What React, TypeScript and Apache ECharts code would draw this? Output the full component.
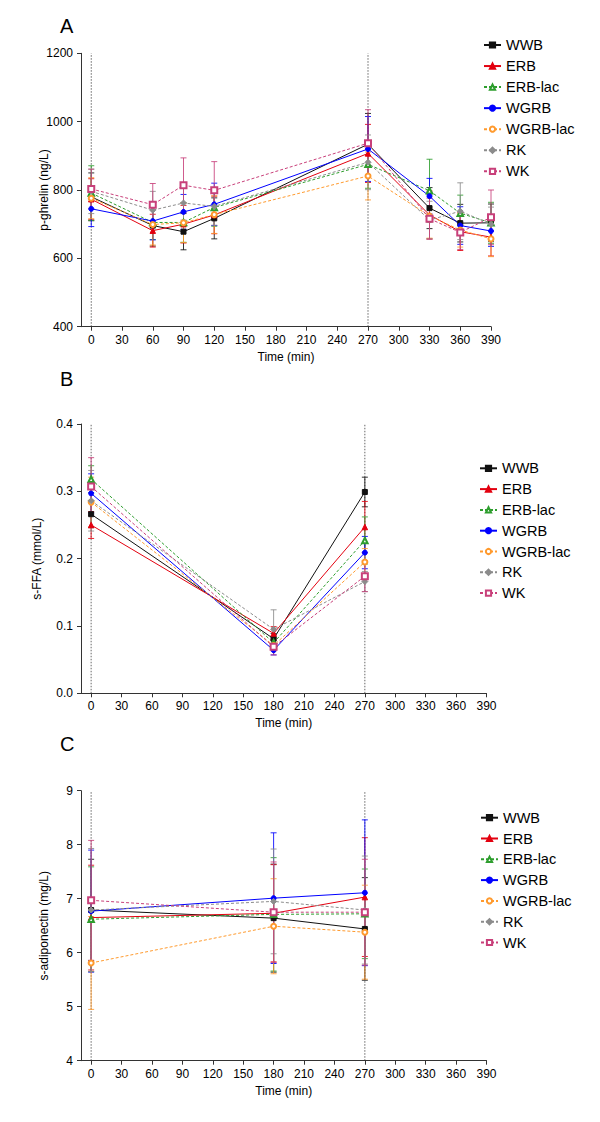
import React, { useEffect, useRef } from "react";
import * as echarts from "echarts";

// ---------- DATA ----------
const groups = ["WWB", "ERB", "ERB-lac", "WGRB", "WGRB-lac", "RK", "WK"];
const xTicks = [0, 30, 60, 90, 120, 150, 180, 210, 240, 270, 300, 330, 360, 390];
const refTimes = [0, 270];

// Panel A: p-ghrelin (ng/L)
const timesA = [0, 60, 90, 120, 270, 330, 360, 390];
const ghrelinWWB = [780, 696, 678, 717, 934, 747, 703, 704];
const ghrelinERB = [773, 681, 700, 727, 907, 727, 678, 662];
const ghrelinERBlac = [791, 705, 705, 749, 875, 798, 732, 704];
const ghrelinWGRB = [745, 709, 736, 758, 920, 782, 696, 680];
const ghrelinWGRBlac = [776, 699, 704, 728, 841, 724, 683, 657];
const ghrelinRK = [796, 741, 762, 752, 881, 712, 738, 700];
const ghrelinWK = [803, 757, 814, 799, 937, 716, 676, 720];
const ghrelinErrWWB = [70, 60, 53, 60, 90, 60, 55, 55];
const ghrelinErrERB = [60, 48, 55, 55, 85, 70, 55, 55];
const ghrelinErrERBlac = [80, 50, 58, 55, 70, 92, 53, 60];
const ghrelinErrWGRB = [52, 55, 51, 62, 95, 52, 55, 45];
const ghrelinErrWGRBlac = [60, 60, 58, 55, 70, 65, 50, 52];
const ghrelinErrRK = [65, 55, 50, 55, 80, 55, 83, 50];
const ghrelinErrWK = [58, 62, 80, 84, 98, 60, 50, 80];

// Panel B: s-FFA (mmol/L)
const timesB = [0, 180, 270];
const ffaWWB = [0.266, 0.081, 0.299];
const ffaERB = [0.25, 0.089, 0.247];
const ffaERBlac = [0.318, 0.075, 0.227];
const ffaWGRB = [0.297, 0.064, 0.209];
const ffaWGRBlac = [0.284, 0.071, 0.195];
const ffaRK = [0.286, 0.095, 0.166];
const ffaWK = [0.307, 0.069, 0.174];
const ffaErrWWB = [0.02, 0.008, 0.022];
const ffaErrERB = [0.02, 0.01, 0.038];
const ffaErrERBlac = [0.02, 0.008, 0.035];
const ffaErrWGRB = [0.029, 0.007, 0.024];
const ffaErrWGRBlac = [0.037, 0.008, 0.02];
const ffaErrRK = [0.045, 0.029, 0.015];
const ffaErrWK = [0.043, 0.012, 0.023];

// Panel C: s-adiponectin (mg/L)
const timesC = [0, 180, 270];
const adipoWWB = [6.79, 6.64, 6.44];
const adipoERB = [6.65, 6.73, 7.03];
const adipoERBlac = [6.62, 6.71, 6.72];
const adipoWGRB = [6.77, 7.01, 7.11];
const adipoWGRBlac = [5.81, 6.49, 6.38];
const adipoRK = [6.79, 6.95, 6.79];
const adipoWK = [6.97, 6.75, 6.75];
const adipoErrWWB = [0.94, 1.0, 0.95];
const adipoErrERB = [0.97, 0.9, 1.1];
const adipoErrERBlac = [0.97, 1.05, 0.83];
const adipoErrWGRB = [1.13, 1.21, 1.35];
const adipoErrWGRBlac = [0.86, 0.88, 0.87];
const adipoErrRK = [1.14, 0.97, 1.0];
const adipoErrWK = [1.11, 0.93, 0.98];

const panels = [
  {
    letter: "A",
    yName: "p-ghrelin (ng/L)",
    times: timesA,
    means: [ghrelinWWB, ghrelinERB, ghrelinERBlac, ghrelinWGRB, ghrelinWGRBlac, ghrelinRK, ghrelinWK],
    errs: [ghrelinErrWWB, ghrelinErrERB, ghrelinErrERBlac, ghrelinErrWGRB, ghrelinErrWGRBlac, ghrelinErrRK, ghrelinErrWK],
  },
  {
    letter: "B",
    yName: "s-FFA (mmol/L)",
    times: timesB,
    means: [ffaWWB, ffaERB, ffaERBlac, ffaWGRB, ffaWGRBlac, ffaRK, ffaWK],
    errs: [ffaErrWWB, ffaErrERB, ffaErrERBlac, ffaErrWGRB, ffaErrWGRBlac, ffaErrRK, ffaErrWK],
  },
  {
    letter: "C",
    yName: "s-adiponectin (mg/L)",
    times: timesC,
    means: [adipoWWB, adipoERB, adipoERBlac, adipoWGRB, adipoWGRBlac, adipoRK, adipoWK],
    errs: [adipoErrWWB, adipoErrERB, adipoErrERBlac, adipoErrWGRB, adipoErrWGRBlac, adipoErrRK, adipoErrWK],
  },
];

// ---------- STYLE ----------
const styles = [
  { color: "#111111", symbol: "rect", dash: "solid", size: 5 },
  { color: "#e3000f", symbol: "triangle", dash: "solid", size: 5.5 },
  { color: "#2e9e2e", symbol: "emptyTriangle", dash: [3, 2], size: 5.5 },
  { color: "#0000ff", symbol: "circle", dash: "solid", size: 5 },
  { color: "#ff9a2e", symbol: "emptyCircle", dash: [3, 2], size: 5 },
  { color: "#8c8c8c", symbol: "diamond", dash: [3, 2], size: 6 },
  { color: "#c8407a", symbol: "emptyRect", dash: [3, 2], size: 6 },
];

const layout = [
  { left: 81, top: 53.3, width: 410, height: 273.4, yMin: 400, yMax: 1200, yInt: 200, nameGap: 31, legendLeft: 483, legendTop: 37.5, legendGap: 6.05, letterY: 27, dec: 0 },
  { left: 81, top: 424, width: 405.5, height: 269.3, yMin: 0, yMax: 0.4, yInt: 0.1, nameGap: 38, legendLeft: 479, legendTop: 460.8, legendGap: 5.8, letterY: 380, dec: 1 },
  { left: 81, top: 790.7, width: 405.5, height: 270, yMin: 4, yMax: 9, yInt: 1, nameGap: 31, legendLeft: 480, legendTop: 810.2, legendGap: 5.8, letterY: 745, dec: 0 },
];

const FONT = "Liberation Sans, Arial, sans-serif";

function buildOption() {
  const grid: any[] = [];
  const xAxis: any[] = [];
  const yAxis: any[] = [];
  const legend: any[] = [];
  const series: any[] = [];
  const graphic: any[] = [];

  panels.forEach((p, pi) => {
    const L = layout[pi];
    grid.push({ left: L.left, top: L.top, width: L.width, height: L.height });
    xAxis.push({
      type: "value",
      gridIndex: pi,
      min: -10,
      max: 390,
      name: "Time (min)",
      nameLocation: "middle",
      nameGap: 24,
      nameMoveOverlap: false,
      nameTextStyle: { fontFamily: FONT, fontSize: 12, color: "#000" },
      axisLine: { show: true, onZero: false, lineStyle: { color: "#333", width: 1 } },
      axisTick: { show: true, length: 4, customValues: xTicks, lineStyle: { color: "#333" } },
      axisLabel: { customValues: xTicks, fontFamily: FONT, fontSize: 12, color: "#000", margin: 7 },
      splitLine: { show: false },
    });
    yAxis.push({
      type: "value",
      gridIndex: pi,
      min: L.yMin,
      max: L.yMax,
      interval: L.yInt,
      name: p.yName,
      nameLocation: "middle",
      nameGap: L.nameGap,
      nameMoveOverlap: false,
      nameTextStyle: { fontFamily: FONT, fontSize: 12, color: "#000" },
      axisLine: { show: true, onZero: false, lineStyle: { color: "#333", width: 1 } },
      axisTick: { show: true, length: 4, lineStyle: { color: "#333" } },
      axisLabel: {
        fontFamily: FONT,
        fontSize: 12,
        color: "#000",
        margin: 8,
        formatter: (v: number) => v.toFixed(L.dec),
      },
      splitLine: { show: false },
    });
    legend.push({
      orient: "vertical",
      left: L.legendLeft,
      top: L.legendTop,
      padding: 0,
      itemWidth: 17,
      itemHeight: 6.5,
      itemGap: L.legendGap,
      selectedMode: false,
      textStyle: { fontFamily: FONT, fontSize: 14.5, color: "#000" },
      data: groups,
    });
    graphic.push({
      type: "text",
      left: 60,
      top: L.letterY - 11,
      style: { text: p.letter, fontFamily: FONT, fontSize: 20, fill: "#000" },
    });

    // dotted reference lines at 0 and 270 min, spanning the full y range
    series.push({
      type: "custom",
      name: "ref-" + p.letter,
      xAxisIndex: pi,
      yAxisIndex: pi,
      silent: true,
      z: 0,
      clip: false,
      encode: { x: 0, y: [1, 2] },
      data: refTimes.map((t) => [t, L.yMin, L.yMax]),
      renderItem: (params: any, api: any) => {
        const x = api.value(0);
        const a = api.coord([x, api.value(1)]);
        const b = api.coord([x, api.value(2)]);
        return {
          type: "line",
          shape: { x1: a[0], y1: a[1], x2: b[0], y2: b[1] },
          style: { stroke: "#666", lineWidth: 1, lineDash: [1.5, 1.5] },
        };
      },
    });

    groups.forEach((g, gi) => {
      const st = styles[gi];
      const errData = p.times.map((t, k) => [t, p.means[gi][k] - p.errs[gi][k], p.means[gi][k] + p.errs[gi][k]]);
      series.push({
        type: "custom",
        name: g + "-err-" + p.letter,
        xAxisIndex: pi,
        yAxisIndex: pi,
        z: 1,
        silent: true,
        encode: { x: 0, y: [1, 2] },
        data: errData,
        renderItem: (params: any, api: any) => {
          const x = api.value(0);
          const lo = api.coord([x, api.value(1)]);
          const hi = api.coord([x, api.value(2)]);
          const w = 3;
          const style = { stroke: st.color, lineWidth: 1, opacity: 0.85 };
          return {
            type: "group",
            children: [
              { type: "line", shape: { x1: hi[0], y1: hi[1], x2: lo[0], y2: lo[1] }, style },
              { type: "line", shape: { x1: hi[0] - w, y1: hi[1], x2: hi[0] + w, y2: hi[1] }, style },
              { type: "line", shape: { x1: lo[0] - w, y1: lo[1], x2: lo[0] + w, y2: lo[1] }, style },
            ],
          };
        },
      });
    });

    groups.forEach((g, gi) => {
      const st = styles[gi];
      series.push({
        type: "line",
        name: g,
        xAxisIndex: pi,
        yAxisIndex: pi,
        z: 3,
        data: p.times.map((t, k) => [t, p.means[gi][k]]),
        symbol: st.symbol,
        symbolSize: st.size,
        showAllSymbol: true,
        color: st.color,
        itemStyle: { color: st.color, borderColor: st.color, borderWidth: 1 },
        lineStyle: { color: st.color, width: 1, type: st.dash },
      });
    });
  });

  return {
    animation: false,
    backgroundColor: "#ffffff",
    grid,
    xAxis,
    yAxis,
    legend,
    series,
    graphic,
  };
}

export default function App() {
  const ref = useRef<HTMLDivElement>(null);
  useEffect(() => {
    document.body.style.margin = "0";
    if (!ref.current) return;
    const chart = echarts.init(ref.current, undefined, { renderer: "svg" });
    chart.setOption(buildOption() as any);
    return () => chart.dispose();
  }, []);
  return <div ref={ref} style={{ width: 600, height: 1122 }} />;
}
